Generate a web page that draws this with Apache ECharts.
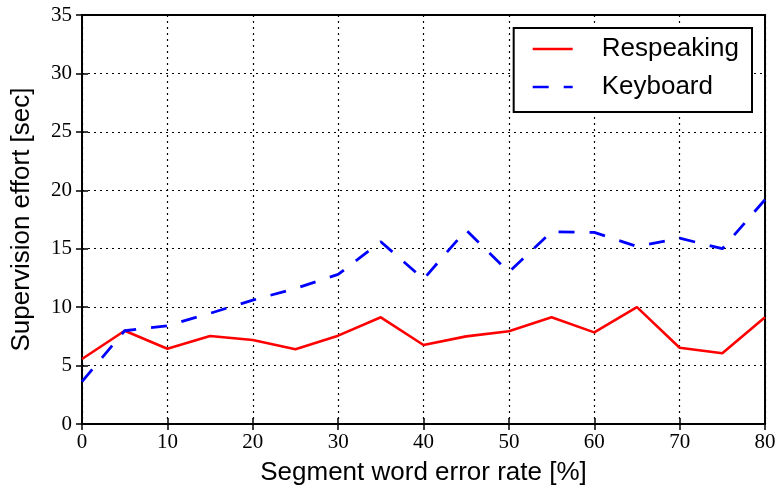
<!DOCTYPE html>
<html><head><meta charset="utf-8">
<script src="https://cdn.jsdelivr.net/npm/echarts@6/dist/echarts.min.js"></script>
<style>html,body{margin:0;padding:0;background:#fff}#c{width:779px;height:493px}</style>
</head><body><div id="c"></div>
<script>
const xValues = [0,5,10,15,20,25,30,35,40,45,50,55,60,65,70,75,80];
const respeaking = [5.56,7.98,6.44,7.53,7.19,6.39,7.56,9.13,6.76,7.5,7.93,9.13,7.84,10.0,6.53,6.05,9.13];
const keyboard = [3.62,7.98,8.41,9.47,10.6,11.6,12.8,15.6,12.4,16.6,13.0,16.45,16.4,15.2,15.9,15.0,19.2];
const seriesNames = ['Respeaking','Keyboard'];
const xTitle = 'Segment word error rate [%]';
const yTitle = 'Supervision effort [sec]';

const chart = echarts.init(document.getElementById('c'), null, {renderer:'canvas'});
const serif = 'Liberation Serif';
const sans = 'Liberation Sans';
const grid = {left:82, top:15, width:683, height:409};
const pair = a => xValues.map((x,i)=>[x,a[i]]);
const tick = {show:true, inside:true, length:6, lineStyle:{color:'#000', width:1.5}};
const gridLine = {show:true, lineStyle:{color:'#000', type:[2,4], width:1.2}};
chart.setOption({
  animation:false,
  backgroundColor:'#fff',
  grid: Object.assign({show:true, borderColor:'#000', borderWidth:2, backgroundColor:'transparent'}, grid),
  legend:{
    right:27, top:28, orient:'vertical', backgroundColor:'#fff',
    borderColor:'#000', borderWidth:2, padding:[8,13,12,19], itemGap:12,
    itemWidth:40, itemHeight:14,
    textStyle:{fontFamily:sans, fontSize:26, lineHeight:26, color:'#000', padding:[0,0,0,24]},
    data:[{name:seriesNames[0], icon:'path://M0,0 L40,0 L40,2.6 L0,2.6 Z'},
          {name:seriesNames[1], icon:'path://M0,0 L16,0 L16,2.6 L0,2.6 Z M31,0 L40,0 L40,2.6 L31,2.6 Z'}]
  },
  xAxis:[{
    type:'value', min:0, max:80, interval:10,
    name:xTitle, nameLocation:'middle', nameGap:36,
    nameTextStyle:{fontFamily:sans, fontSize:26, color:'#000'},
    axisLine:{show:true, onZero:false, lineStyle:{color:'#000', width:2}},
    axisTick:tick,
    axisLabel:{fontFamily:serif, fontSize:21, color:'#000', margin:8},
    splitLine:gridLine
  },{
    type:'value', min:0, max:80, interval:10, position:'top',
    axisLine:{show:false}, axisLabel:{show:false}, splitLine:{show:false},
    axisTick:tick
  }],
  yAxis:[{
    type:'value', min:0, max:35, interval:5,
    name:yTitle, nameLocation:'middle', nameGap:47,
    nameTextStyle:{fontFamily:sans, fontSize:26, color:'#000'},
    axisLine:{show:true, onZero:false, lineStyle:{color:'#000', width:2}},
    axisTick:tick,
    axisLabel:{fontFamily:serif, fontSize:21, color:'#000', margin:10},
    splitLine:gridLine
  },{
    type:'value', min:0, max:35, interval:5, position:'right',
    axisLine:{show:false}, axisLabel:{show:false}, splitLine:{show:false},
    axisTick:tick
  }],
  series:[
    {name:seriesNames[0], type:'line', data:pair(respeaking), showSymbol:false, symbol:'none',
     lineStyle:{color:'#ff0000', width:2.6}, itemStyle:{color:'#ff0000'}, z:3},
    {name:seriesNames[1], type:'line', data:pair(keyboard), showSymbol:false, symbol:'none',
     lineStyle:{color:'#0000ff', width:2.8, type:[16,15]}, itemStyle:{color:'#0000ff'}, z:3}
  ]
});
</script></body></html>
